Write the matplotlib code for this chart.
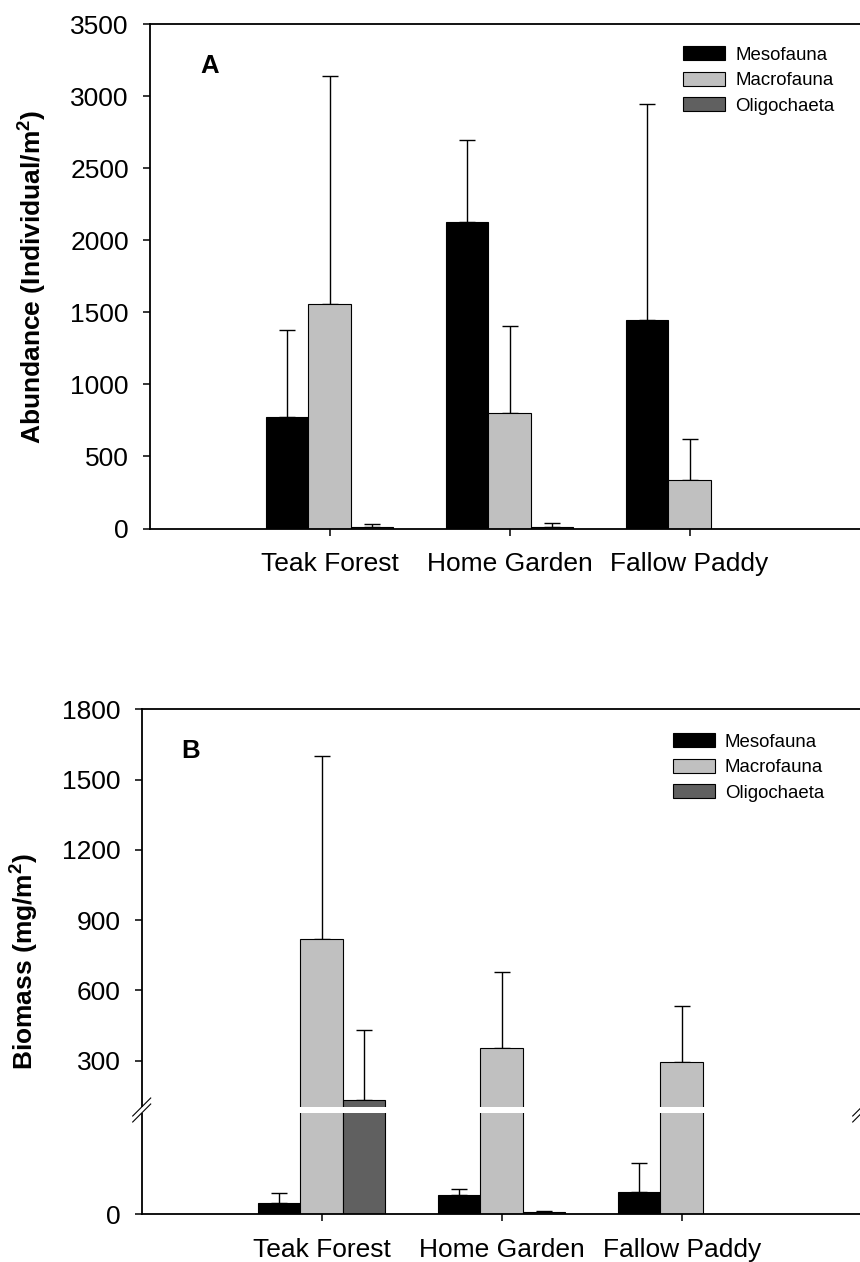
import numpy as np
import matplotlib
matplotlib.use("Agg")
import matplotlib.pyplot as plt
from matplotlib.patches import Rectangle

plt.rcParams['font.family'] = ['Liberation Sans', 'DejaVu Sans']

# ---------------- data ----------------
sites = ['Teak Forest', 'Home Garden', 'Fallow Paddy']
groups = ['Mesofauna', 'Macrofauna', 'Oligochaeta']

# Panel A: abundance (individual/m2), mean and upper error (SE)
abund_meso = [776, 2127, 1444]
abund_meso_se = [602, 569, 1505]
abund_macro = [1561, 799, 340]
abund_macro_se = [1581, 606, 281]
abund_oligo = [8, 13, 0]
abund_oligo_se = [22, 25, 0]

# Panel B: biomass (mg/m2), mean and upper error (SE)
bio_meso = [9.5, 16.2, 18.8]
bio_meso_se = [8.9, 5.4, 25.6]
bio_macro = [821, 354, 296]
bio_macro_se = [780, 324, 237]
bio_oligo = [131, 1.5, 0]
bio_oligo_se = [299, 1.4, 0]

abund_ticks = [0, 500, 1000, 1500, 2000, 2500, 3000, 3500]
bio_ticks = [0, 300, 600, 900, 1200, 1500, 1800]

colors = ['#000000', '#c0c0c0', '#606060']

# ---------------- layout ----------------
W, H = 860, 1262
fig = plt.figure(figsize=(W / 100, H / 100), dpi=100)

def px_axes(left, right, top, bottom):
    return fig.add_axes([left / W, (H - bottom) / H, (right - left) / W, (bottom - top) / H])

axA = px_axes(149.7, 869.5, 24.3, 528.5)
axB = px_axes(141.7, 861.7, 709.3, 1214.0)

# broken scale for panel B
BRK = 90.0
TOPV = 1800.0
LOW_PX = 104.0
UP_PX = 400.7

def fwd(v):
    v = np.asarray(v, dtype=float)
    return np.where(v <= BRK, v / BRK * LOW_PX, LOW_PX + (v - BRK) / (TOPV - BRK) * UP_PX)

def inv(u):
    u = np.asarray(u, dtype=float)
    return np.where(u <= LOW_PX, u / LOW_PX * BRK, BRK + (u - LOW_PX) / UP_PX * (TOPV - BRK))

axB.set_yscale('function', functions=(fwd, inv))

x = np.arange(1, len(sites) + 1)
bw = 0.236
offsets = [-bw, 0.0, bw]

def draw(ax, series, ses):
    handles = []
    for k, (vals, se) in enumerate(zip(series, ses)):
        xs = x + offsets[k]
        h = ax.bar(xs, vals, width=bw, color=colors[k], edgecolor='black',
                   linewidth=0.8, label=groups[k], zorder=2)
        handles.append(h)
        vals = np.asarray(vals, float)
        se = np.asarray(se, float)
        m = se > 0
        ax.errorbar(xs[m], vals[m], yerr=[np.zeros(m.sum()), se[m]], fmt='none',
                    ecolor='black', elinewidth=1.0, capsize=6.0, capthick=1.0, zorder=1.5)
    return handles

hA = draw(axA, [abund_meso, abund_macro, abund_oligo],
          [abund_meso_se, abund_macro_se, abund_oligo_se])
hB = draw(axB, [bio_meso, bio_macro, bio_oligo],
          [bio_meso_se, bio_macro_se, bio_oligo_se])

for ax in (axA, axB):
    ax.set_xlim(0, 4)
    ax.set_xticks(x)
    ax.set_xticklabels(sites)
    ax.spines['right'].set_visible(False)
    for s in ('left', 'bottom', 'top'):
        ax.spines[s].set_linewidth(1.3)
    ax.tick_params(axis='both', which='both', direction='out', length=5, width=1.1,
                   labelsize=19, pad=10, top=False, right=False)
    ax.tick_params(axis='x', pad=12)

axA.set_ylim(0, 3500)
axA.set_yticks(abund_ticks)
axB.set_ylim(0, 1800)
axB.set_yticks(bio_ticks)
axB.set_yticklabels([str(t) for t in bio_ticks])
axB.yaxis.set_minor_locator(matplotlib.ticker.NullLocator())

axA.set_ylabel('Abundance (Individual/m$^\\mathregular{2}$)', fontsize=19, fontweight='bold')
axB.set_ylabel('Biomass (mg/m$^\\mathregular{2}$)', fontsize=19, fontweight='bold')
for ax, xl in ((axA, (31.7 - 149.7) / 719.8), (axB, (23.3 - 141.7) / 720.0)):
    ax.yaxis.label.set_verticalalignment('center')
    ax.yaxis.set_label_coords(xl, 0.5)

axA.text(0.0699, 0.9028, 'A', transform=axA.transAxes, fontsize=18.5,
         fontweight='bold', ha='left', va='baseline')
axB.text(0.0556, 0.903, 'B', transform=axB.transAxes, fontsize=18.5,
         fontweight='bold', ha='left', va='baseline')

legkw = dict(frameon=False, loc='upper left', fontsize=13.4, handlelength=2.26,
             handleheight=0.8, handletextpad=0.55, labelspacing=0.43,
             borderpad=0, borderaxespad=0)
axA.legend(handles=hA, bbox_to_anchor=(0.7413, 0.957), **legkw)
axB.legend(handles=hB, bbox_to_anchor=(0.7375, 0.953), **legkw)

# axis break in panel B
yb = LOW_PX / (LOW_PX + UP_PX)
gap = 6.0 / 504.7
axB.add_patch(Rectangle((-0.006, yb - gap / 2), 1.012, gap, transform=axB.transAxes,
                        facecolor='white', edgecolor='none', zorder=3, clip_on=False))
dx = 9.0 / 720.0
dy = 9.0 / 504.7
for xs in (0.0, 1.0):
    for off in (-gap / 2, gap / 2):
        axB.plot([xs - dx, xs + dx], [yb + off - dy, yb + off + dy], color='black',
                 lw=0.8, transform=axB.transAxes, clip_on=False, zorder=4)

fig.savefig('out.png', dpi=100)
